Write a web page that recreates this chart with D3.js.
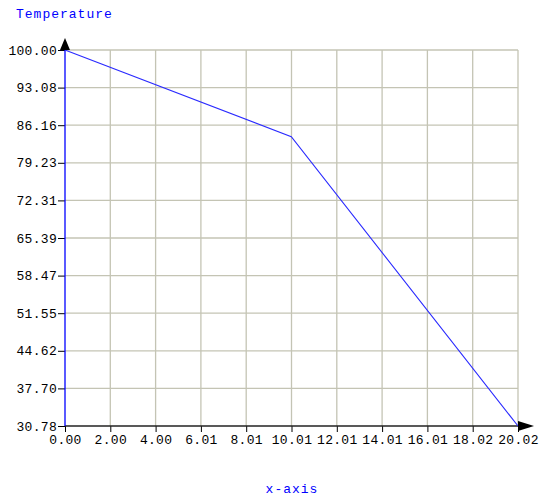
<!DOCTYPE html>
<html>
<head>
<meta charset="utf-8">
<script src="https://cdn.jsdelivr.net/npm/d3@7"></script>
<style>
  body { margin: 0; background: #fff; }
  text { font-family: "Liberation Mono", "DejaVu Sans Mono", monospace; }
</style>
</head>
<body>
<div class="chart"></div>
<script>
let width = 539;
let height = 501;
let margin = {left: 65, right: 21, top: 50, bottom: 75};

// data
let xValues = [0, 10, 20.018];
let temps = [100, 84.04, 30.78];
let xDomain = [0, 20.018];
let yDomain = [30.78, 100];

let svg = d3.select('.chart')
            .append('svg')
            .attr('width', width)
            .attr('height', height);

let xScale = d3.scaleLinear()
               .domain(xDomain)
               .range([margin.left, width - margin.right]);
let yScale = d3.scaleLinear()
               .domain(yDomain)
               .range([height - margin.bottom, margin.top]);

let xTicks = d3.range(11).map(i => xDomain[0] + i * (xDomain[1] - xDomain[0]) / 10);
let yTicks = d3.range(11).map(i => yDomain[0] + i * (yDomain[1] - yDomain[0]) / 10);

// grid
svg.append('g')
   .selectAll('line')
   .data(xTicks.slice(1))
   .enter()
   .append('line')
   .attr('x1', d => xScale(d))
   .attr('x2', d => xScale(d))
   .attr('y1', yScale(yDomain[0]))
   .attr('y2', yScale(yDomain[1]))
   .attr('stroke', '#c4c4b4')
   .attr('stroke-width', 1.3);
svg.append('g')
   .selectAll('line')
   .data(yTicks.slice(1))
   .enter()
   .append('line')
   .attr('x1', xScale(xDomain[0]))
   .attr('x2', xScale(xDomain[1]))
   .attr('y1', d => yScale(d))
   .attr('y2', d => yScale(d))
   .attr('stroke', '#c4c4b4')
   .attr('stroke-width', 1.3);

// axes
let xAxis = d3.axisBottom(xScale)
              .tickValues(xTicks)
              .tickFormat(d3.format('.2f'))
              .tickSize(6)
              .tickPadding(3);
let yAxis = d3.axisLeft(yScale)
              .tickValues(yTicks)
              .tickFormat(d3.format('.2f'))
              .tickSize(7)
              .tickPadding(1);

let gx = svg.append('g')
            .attr('transform', 'translate(0,' + yScale(yDomain[0]) + ')')
            .call(xAxis);
let gy = svg.append('g')
            .attr('transform', 'translate(' + xScale(xDomain[0]) + ',0)')
            .call(yAxis);

[gx, gy].forEach(g => {
  g.select('.domain').remove();
  g.selectAll('text')
   .style('font-size', '13px')
   .style('letter-spacing', '0.3px')
   .attr('fill', '#000');
  g.selectAll('.tick line').attr('stroke', '#000');
});

svg.append('line')
   .attr('x1', xScale(xDomain[0]))
   .attr('x2', xScale(xDomain[1]))
   .attr('y1', yScale(yDomain[0]))
   .attr('y2', yScale(yDomain[0]))
   .attr('stroke', '#222')
   .attr('stroke-width', 1.5);
svg.append('line')
   .attr('x1', xScale(xDomain[0]))
   .attr('x2', xScale(xDomain[0]))
   .attr('y1', yScale(yDomain[0]))
   .attr('y2', yScale(yDomain[1]))
   .attr('stroke', '#0000ff')
   .attr('stroke-width', 1.3);

// data line
let line = d3.line()
             .x((d, i) => xScale(xValues[i]))
             .y(d => yScale(d));
svg.append('path')
   .datum(temps)
   .attr('d', line)
   .attr('fill', 'none')
   .attr('stroke', '#2a2aff')
   .attr('stroke-width', 1.1);

// arrows
let ox = xScale(xDomain[0]);
let oTop = yScale(yDomain[1]);
let bx = xScale(xDomain[1]);
let by = yScale(yDomain[0]);
svg.append('path')
   .attr('d', 'M' + ox + ',' + (oTop - 12) + 'L' + (ox + 5) + ',' + oTop + 'L' + (ox - 5) + ',' + oTop + 'Z')
   .attr('fill', '#000');
svg.append('path')
   .attr('d', 'M' + (bx + 16) + ',' + by + 'L' + bx + ',' + (by - 5) + 'L' + bx + ',' + (by + 5) + 'Z')
   .attr('fill', '#000');

// titles
svg.append('text')
   .attr('x', 16)
   .attr('y', 18)
   .attr('fill', '#0000ff')
   .style('font-size', '13px')
   .style('letter-spacing', '1px')
   .text('Temperature');
svg.append('text')
   .attr('x', 292)
   .attr('y', 493)
   .attr('fill', '#0000ff')
   .style('text-anchor', 'middle')
   .style('font-size', '13px')
   .style('letter-spacing', '1px')
   .text('x-axis');
</script>
</body>
</html>
